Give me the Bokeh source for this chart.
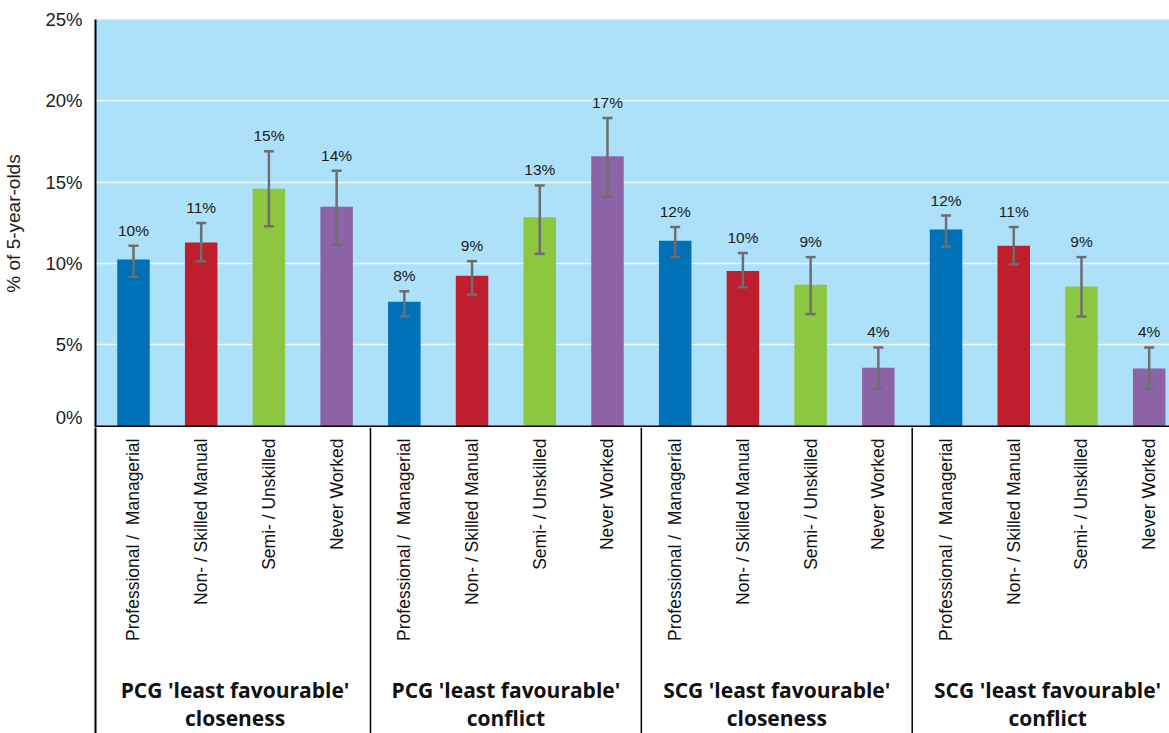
import numpy as np
from bokeh.plotting import figure
from bokeh.layouts import column
from bokeh.models import Range1d, FixedTicker, PrintfTickFormatter, ColumnDataSource
from bokeh.core.properties import value
from bokeh.embed import file_html
from bokeh.resources import INLINE

# ---------------- data ----------------
group_line1 = ["PCG 'least favourable'", "PCG 'least favourable'",
               "SCG 'least favourable'", "SCG 'least favourable'"]
group_line2 = ["closeness", "conflict", "closeness", "conflict"]
classes = ["Professional /\u00a0 Managerial", "Non- / Skilled Manual",
           "Semi- / Unskilled", "Never Worked"]
class_colors = ["#0070B9", "#BE1E2D", "#8DC63F", "#8D63A8"]

values = [10.25, 11.3, 14.6, 13.5,
          7.65, 9.25, 12.85, 16.6,
          11.4, 9.55, 8.7, 3.6,
          12.1, 11.1, 8.6, 3.55]
err_low = [9.2, 10.15, 12.3, 11.15,
           6.75, 8.1, 10.6, 14.1,
           10.4, 8.55, 6.9, 2.3,
           11.05, 9.95, 6.75, 2.3]
err_high = [11.1, 12.5, 16.9, 15.7,
            8.3, 10.15, 14.8, 18.95,
            12.25, 10.65, 10.4, 4.85,
            12.95, 12.25, 10.4, 4.85]
value_labels = ["10%", "11%", "15%", "14%",
                "8%", "9%", "13%", "17%",
                "12%", "10%", "9%", "4%",
                "12%", "11%", "9%", "4%"]
y_ticks = [0, 5, 10, 15, 20, 25]
y_title = "% of 5-year-olds"

# ---------------- layout helpers ----------------
n_cls = len(classes)
n_grp = len(group_line1)
xs = list(range(n_cls * n_grp))
bar_colors = [class_colors[i % n_cls] for i in xs]
bar_cls = [classes[i % n_cls] for i in xs]
group_centers = [g * n_cls + (n_cls - 1) / 2 for g in range(n_grp)]
separators = [g * n_cls - 0.5 for g in range(1, n_grp)]

x_range = Range1d(-0.561, 15.30)
LOWER_H = 306
PX_PER_UNIT = 408 / 25.07

src = ColumnDataSource(dict(x=xs, top=values, lo=err_low, hi=err_high,
                            color=bar_colors, lab=value_labels, cls=bar_cls))

# ---------------- upper chart ----------------
p = figure(width=1169, height=427, x_range=x_range, y_range=Range1d(-0.07, y_ticks[-1]),
           output_backend="svg", toolbar_location=None,
           min_border_left=95, min_border_right=0, min_border_top=19, min_border_bottom=0)
p.outline_line_color = None
p.background_fill_color = "#ADE1FA"
p.border_fill_color = "white"
p.xaxis.visible = False
p.xgrid.visible = False
p.ygrid.ticker = FixedTicker(ticks=y_ticks[1:-1])
p.ygrid.grid_line_color = "white"
p.ygrid.grid_line_width = 1.5
p.ygrid.grid_line_alpha = 0.75

ax = p.yaxis[0]
ax.ticker = FixedTicker(ticks=y_ticks)
ax.formatter = PrintfTickFormatter(format="%d%%")
ax.major_tick_line_color = None
ax.minor_tick_line_color = None
ax.axis_line_color = "black"
ax.axis_line_width = 2
ax.major_label_standoff = 7
ax.major_label_text_font = "Liberation Sans"
ax.major_label_text_font_size = "18.5px"
ax.major_label_text_color = "#1a1a1a"
ax.axis_label = y_title
ax.axis_label_text_font = "Liberation Sans"
ax.axis_label_text_font_size = "19px"
ax.axis_label_text_font_style = "normal"
ax.axis_label_text_color = "#1a1a1a"
ax.axis_label_standoff = 18

# bars
p.vbar(x="x", top="top", bottom=0, width=0.48, fill_color="color", line_color=None, source=src)
# error bars
p.segment(x0="x", y0="lo", x1="x", y1="hi", line_color="#6E6E6E", line_width=2.5, source=src)
p.scatter(x="x", y="lo", marker="dash", size=10, line_color="#6E6E6E", line_width=2.5, source=src)
p.scatter(x="x", y="hi", marker="dash", size=10, line_color="#6E6E6E", line_width=2.5, source=src)
# value labels
p.text(x="x", y="hi", text="lab", source=src, text_align="center", text_baseline="bottom",
       y_offset=-7, text_font=value("Liberation Sans"), text_font_size="15.5px",
       text_color="#1a1a1a")
# x axis line
p.hspan(y=[0], line_color="black", line_width=2)

# ---------------- lower label area ----------------
low_y0 = -LOWER_H / PX_PER_UNIT
q = figure(width=1169, height=LOWER_H, x_range=x_range, y_range=Range1d(low_y0, 0),
           output_backend="svg", toolbar_location=None,
           min_border_left=95, min_border_right=0, min_border_top=0, min_border_bottom=0)
q.outline_line_color = None
q.background_fill_color = "white"
q.border_fill_color = "white"
q.xaxis.visible = False
q.xgrid.visible = False
q.ygrid.visible = False
qa = q.yaxis[0]
qa.ticker = FixedTicker(ticks=[])
qa.major_tick_line_color = None
qa.minor_tick_line_color = None
qa.major_label_text_font_size = "0px"
qa.axis_line_color = "black"
qa.axis_line_width = 2

# separators
q.segment(x0=separators, y0=[0] * len(separators), x1=separators, y1=[low_y0] * len(separators),
          line_color="black", line_width=1.5)

# category labels (rotated)
q.text(x="x", y=-0.68, text="cls", source=src, angle=np.pi / 2, text_align="right",
       text_baseline="middle", text_font=value("Liberation Sans"), text_font_size="17.5px",
       text_color="#111111")

# group labels
q.text(x=group_centers, y=[-16.15] * n_grp, text=group_line1, text_align="center",
       text_baseline="middle", text_font=value("Open Sans"), text_font_style="bold",
       text_font_size="21px", text_color="#111111")
q.text(x=group_centers, y=[-17.86] * n_grp, text=group_line2, text_align="center",
       text_baseline="middle", text_font=value("Open Sans"), text_font_style="bold",
       text_font_size="21px", text_color="#111111")

layout = column(p, q, spacing=0)
open("out.html", "w").write(file_html(layout, INLINE))
